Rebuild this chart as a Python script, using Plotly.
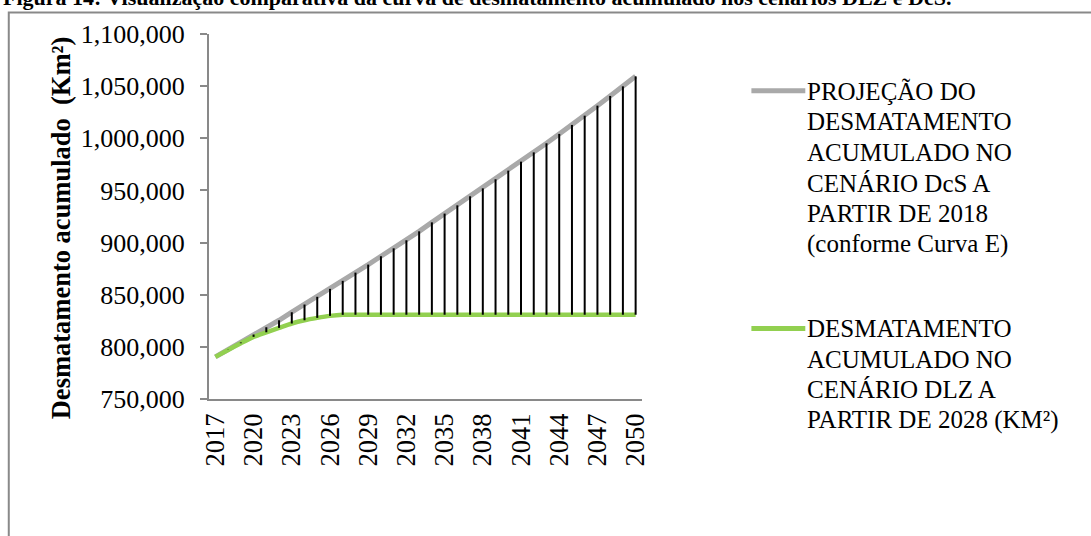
import plotly.graph_objects as go

# Anos do eixo horizontal
anos = list(range(2017, 2051))

# Desmatamento acumulado (km²) – projeção no cenário DcS (Curva E)
dcs = [790400, 797200, 804200, 811800, 818800, 825500, 833200, 840600, 848000,
       855600, 863300, 871200, 878900, 886900, 894500, 902200, 910800, 919400,
       927800, 935700, 944400, 952000, 960700, 969000, 977600, 986500, 995200,
       1004200, 1012800, 1021700, 1031300, 1040600, 1049800, 1059400]

# Desmatamento acumulado (km²) – cenário DLZ
dlz = [790400, 797000, 803500, 809600, 814000, 818200, 822400, 825500, 827800,
       829700, 830700, 830800, 830800, 830800, 830800, 830800, 830800, 830800,
       830800, 830800, 830800, 830800, 830800, 830800, 830800, 830800, 830800,
       830800, 830800, 830800, 830800, 830800, 830800, 830800]

rotulos_x = [str(a) for a in anos[::3]]
nome_dcs = ["PROJEÇÃO DO", "DESMATAMENTO", "ACUMULADO NO", "CENÁRIO DcS A",
            "PARTIR DE 2018", "(conforme Curva E)"]
nome_dlz = ["DESMATAMENTO", "ACUMULADO NO", "CENÁRIO DLZ A", "PARTIR DE 2028 (KM²)"]

COR_DCS = "#A9A9A9"
COR_DLZ = "#92D050"
COR_EIXO = "#898989"
FONTE = "Liberation Serif"

W, H = 1091, 536
ML, MR, MT, MB = 208.6, 448.6, 34.3, 136.5
PW, PH = W - ML - MR, H - MT - MB


def px(x):
    return (x - ML) / PW


def py(y):
    return (H - MB - y) / PH


# linhas de máximo-mínimo entre as duas séries
hx, hy = [], []
for a, s, d in zip(anos, dcs, dlz):
    hx += [a, a, None]
    hy += [s, d, None]

fig = go.Figure()
fig.add_trace(go.Scatter(x=anos, y=dcs, mode="lines",
                         line=dict(color=COR_DCS, width=5), showlegend=False))
fig.add_trace(go.Scatter(x=anos, y=dlz, mode="lines",
                         line=dict(color=COR_DLZ, width=4.5, shape="spline", smoothing=0.6),
                         showlegend=False))
fig.add_trace(go.Scatter(x=hx, y=hy, mode="lines",
                         line=dict(color="black", width=2), showlegend=False))

fig.update_xaxes(range=[2016.5, 2050.5], tickvals=anos[::3], ticktext=rotulos_x,
                 tickangle=-90, showgrid=False, zeroline=False, showline=True,
                 linecolor=COR_EIXO, linewidth=2, ticks="", ticklabelstandoff=2,
                 tickfont=dict(family=FONTE, size=26.5, color="black"))
fig.update_yaxes(range=[750000, 1100000], dtick=50000, tickformat=",",
                 showgrid=False, zeroline=False, showline=True,
                 linecolor=COR_EIXO, linewidth=2, ticks="outside", ticklen=7,
                 tickwidth=2, tickcolor=COR_EIXO, ticklabelstandoff=10,
                 tickfont=dict(family=FONTE, size=26, color="black"))

anot = []
anot.append(dict(text="<b>Desmatamento acumulado  (Km²)</b>", textangle=-90,
                 x=px(60), y=py(228), xref="paper", yref="paper",
                 showarrow=False, xanchor="center", yanchor="middle",
                 font=dict(family=FONTE, size=26.5, color="black")))
anot.append(dict(text="<b>Figura 14: Visualização comparativa da curva de desmatamento "
                      "acumulado nos cenários DLZ e DcS.</b>",
                 x=px(0), y=py(-2), xref="paper", yref="paper", showarrow=False,
                 xanchor="left", yanchor="middle",
                 font=dict(family=FONTE, size=22, color="black")))

for i, t in enumerate(nome_dcs):
    anot.append(dict(text=t, x=px(806), y=py(91.7 + i * 30.6), xref="paper", yref="paper",
                     showarrow=False, xanchor="left", yanchor="middle",
                     font=dict(family=FONTE, size=25, color="black")))
for i, t in enumerate(nome_dlz):
    anot.append(dict(text=t, x=px(806), y=py(329 + i * 30.6), xref="paper", yref="paper",
                     showarrow=False, xanchor="left", yanchor="middle",
                     font=dict(family=FONTE, size=25, color="black")))

shapes = [
    dict(type="line", xref="paper", yref="paper", x0=px(752), x1=px(806),
         y0=py(91), y1=py(91), line=dict(color=COR_DCS, width=5)),
    dict(type="line", xref="paper", yref="paper", x0=px(752), x1=px(806),
         y0=py(329), y1=py(329), line=dict(color=COR_DLZ, width=5)),
    dict(type="path", xref="paper", yref="paper",
         path=f"M {px(8)},{py(540)} L {px(8)},{py(12.7)} L {px(1095)},{py(12.7)}",
         line=dict(color=COR_EIXO, width=2)),
]

fig.update_layout(width=W, height=H, margin=dict(l=ML, r=MR, t=MT, b=MB),
                  paper_bgcolor="white", plot_bgcolor="white",
                  annotations=anot, shapes=shapes, showlegend=False)

fig.write_html("out.html")
